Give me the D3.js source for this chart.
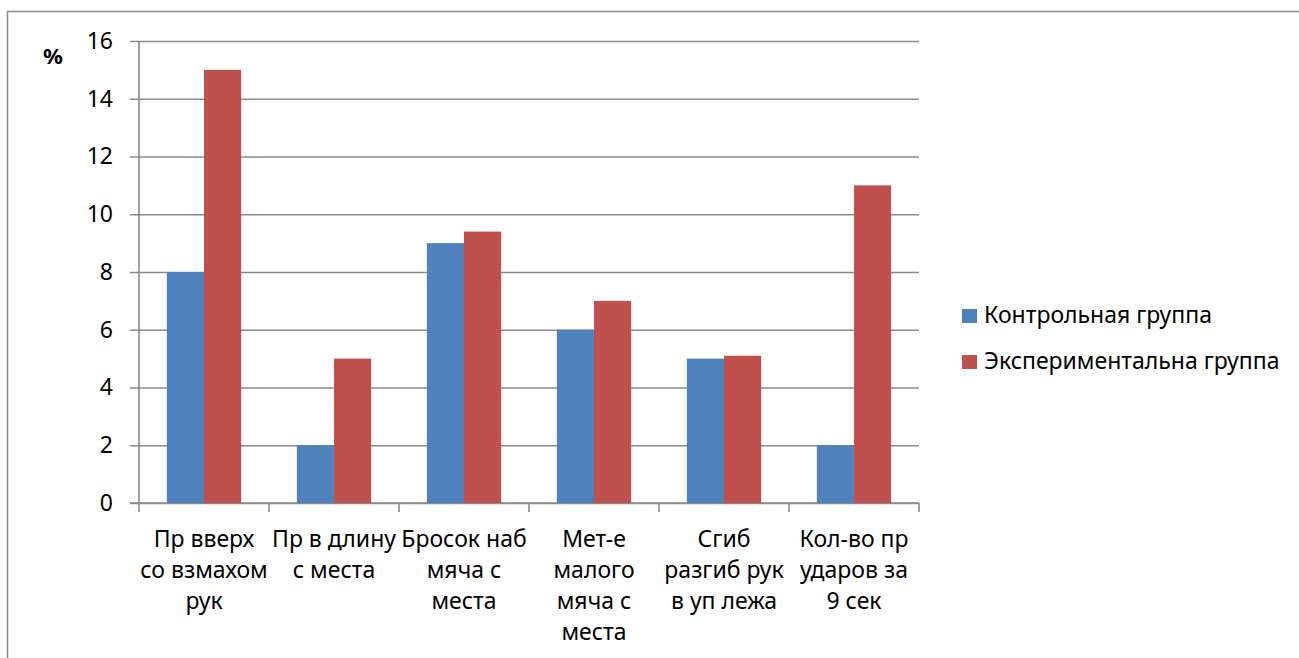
<!DOCTYPE html>
<html>
<head>
<meta charset="utf-8">
<script src="https://cdn.jsdelivr.net/npm/d3@7"></script>
<style>
  html, body { margin: 0; padding: 0; background: #fff; }
  svg { display: block; font-family: "Noto Sans", "Open Sans", sans-serif; }
</style>
</head>
<body>
<svg id="chart" width="1299" height="658"></svg>
<script>
// Exercise names (category axis), one entry per group of bars
const categories = [
  ["Пр вверх", "со взмахом", "рук"],
  ["Пр в длину", "с места"],
  ["Бросок наб", "мяча с", "места"],
  ["Мет-е", "малого", "мяча с", "места"],
  ["Сгиб", "разгиб рук", "в уп лежа"],
  ["Кол-во пр", "ударов за", "9 сек"]
];
const seriesNames = ["Контрольная группа", "Экспериментальна группа"];
const controlValues = [8, 2, 9, 6, 5, 2];
const experimentalValues = [15, 5, 9.4, 7, 5.1, 11];
const yTicks = [0, 2, 4, 6, 8, 10, 12, 14, 16];
const colors = ["#4f81bd", "#c0504d"];

const FONT = 23;
const svg = d3.select("#chart");
const plot = { left: 139, right: 919, top: 41, bottom: 503 };

// outer chart frame
svg.append("rect")
  .attr("x", 7.5).attr("y", 11.5)
  .attr("width", 1400).attr("height", 800)
  .attr("fill", "none").attr("stroke", "#8c8c8c").attr("stroke-width", 1.5);

const x = d3.scaleBand()
  .domain(d3.range(categories.length))
  .range([plot.left, plot.right])
  .paddingInner(0).paddingOuter(0);

const y = d3.scaleLinear().domain([0, 16]).range([plot.bottom, plot.top]);

// grid lines with small outer ticks on the left
const yAxis = d3.axisLeft(y).tickValues(yTicks)
  .tickSize(-(plot.right - plot.left)).tickPadding(26);
const gy = svg.append("g").attr("transform", `translate(${plot.left},0)`).call(yAxis);
gy.select(".domain").remove();
gy.selectAll(".tick line")
  .attr("x1", -9).attr("x2", plot.right - plot.left)
  .attr("stroke", "#8a8a8a").attr("stroke-width", 1.6);
gy.selectAll(".tick text")
  .attr("font-size", FONT).attr("fill", "#000")
  .attr("font-family", "Noto Sans, sans-serif");

// value axis line
svg.append("line")
  .attr("x1", plot.left).attr("x2", plot.left)
  .attr("y1", plot.top).attr("y2", plot.bottom)
  .attr("stroke", "#8a8a8a").attr("stroke-width", 1.6);

// category axis with tick marks between groups
const catBounds = d3.range(categories.length + 1).map(i => plot.left + i * x.bandwidth());
svg.append("line")
  .attr("x1", plot.left - 9).attr("x2", plot.right)
  .attr("y1", plot.bottom).attr("y2", plot.bottom)
  .attr("stroke", "#8a8a8a").attr("stroke-width", 1.6);
svg.selectAll(".xtick").data(catBounds).join("line")
  .attr("x1", d => d).attr("x2", d => d)
  .attr("y1", plot.bottom).attr("y2", plot.bottom + 9)
  .attr("stroke", "#8a8a8a").attr("stroke-width", 1.6);

// bars
const gapRatio = 1.5;
const barW = x.bandwidth() / (2 + gapRatio);
const series = [controlValues, experimentalValues];
series.forEach((vals, s) => {
  svg.append("g").selectAll("rect").data(vals).join("rect")
    .attr("x", (d, i) => x(i) + (x.bandwidth() - 2 * barW) / 2 + s * barW)
    .attr("y", d => y(d))
    .attr("width", barW)
    .attr("height", d => y(0) - y(d))
    .attr("fill", colors[s]);
});

// category labels
const lbl = svg.append("g");
categories.forEach((lines, i) => {
  const t = lbl.append("text")
    .attr("text-anchor", "middle")
    .attr("font-size", FONT).attr("fill", "#000");
  lines.forEach((ln, k) => {
    t.append("tspan")
      .attr("x", x(i) + x.bandwidth() / 2)
      .attr("y", 547 + k * 31)
      .text(ln);
  });
});

// axis unit
svg.append("text").attr("x", 43).attr("y", 64)
  .attr("font-size", 22).attr("font-weight", "bold").text("%");

// legend
const leg = svg.append("g");
seriesNames.forEach((n, i) => {
  const base = 323 + i * 46;
  leg.append("rect").attr("x", 962).attr("y", base - 14).attr("width", 15).attr("height", 14)
    .attr("fill", colors[i]);
  leg.append("text").attr("x", 984).attr("y", base)
    .attr("font-size", FONT).attr("fill", "#000").text(n);
});
</script>
</body>
</html>
